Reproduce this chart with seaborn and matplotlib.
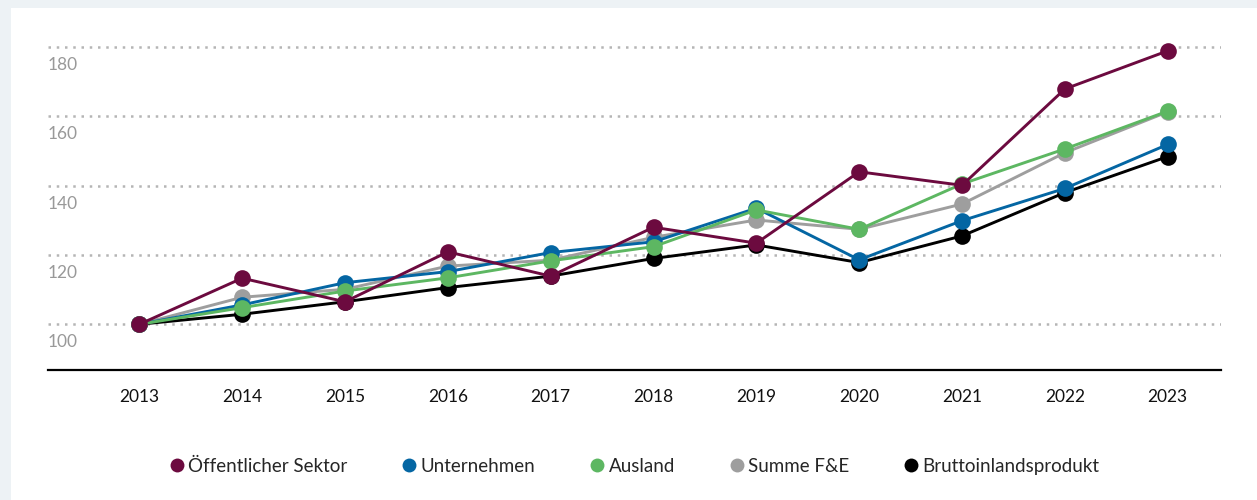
import pandas as pd
import matplotlib.pyplot as plt
import seaborn as sns
from matplotlib.lines import Line2D
from matplotlib.patches import Rectangle

years = [2013, 2014, 2015, 2016, 2017, 2018, 2019, 2020, 2021, 2022, 2023]

oeffentlich = [100, 113.3, 106.5, 120.9, 113.9, 128.0, 123.4, 144.0, 140.1, 167.9, 178.9]
unternehmen = [100, 105.6, 112.0, 115.2, 120.7, 123.8, 133.5, 118.6, 129.9, 139.2, 151.9]
ausland = [100, 104.8, 109.6, 113.4, 118.3, 122.4, 133.0, 127.4, 140.5, 150.6, 161.5]
summe_fe = [100, 107.8, 110.1, 116.8, 118.5, 125.1, 130.1, 127.4, 134.7, 149.5, 161.3]
bip = [100, 102.9, 106.5, 110.6, 113.9, 119.0, 122.9, 117.8, 125.5, 138.0, 148.4]

series = {
    "Öffentlicher Sektor": oeffentlich,
    "Unternehmen": unternehmen,
    "Ausland": ausland,
    "Summe F&E": summe_fe,
    "Bruttoinlandsprodukt": bip,
}
colors = {
    "Öffentlicher Sektor": "#6c0a3f",
    "Unternehmen": "#0466a3",
    "Ausland": "#5db762",
    "Summe F&E": "#9e9e9e",
    "Bruttoinlandsprodukt": "#000000",
}
# drawing order (bottom -> top)
draw_order = ["Bruttoinlandsprodukt", "Summe F&E", "Unternehmen", "Ausland", "Öffentlicher Sektor"]

yticks = [100, 120, 140, 160, 180]

df = pd.DataFrame([
    {"Jahr": y, "Wert": v, "Reihe": name}
    for name, vals in series.items()
    for y, v in zip(years, vals)
])

sns.set_theme(style="white")
plt.rcParams["font.family"] = ["Lato", "DejaVu Sans"]

W, H = 1257, 500
fig = plt.figure(figsize=(W / 100, H / 100), dpi=100, facecolor="#edf2f5")
fig.patches.append(Rectangle((11 / W, 0), 1, 1 - 8 / H, transform=fig.transFigure,
                             facecolor="white", edgecolor="none", zorder=-10))

ax = fig.add_axes([48 / W, 130 / H, (1221 - 48) / W, 330 / H])
ax.set_facecolor("none")

for z, name in enumerate(draw_order):
    sns.lineplot(data=df[df["Reihe"] == name], x="Jahr", y="Wert", color=colors[name],
                 marker="o", markersize=12, markeredgewidth=0, linewidth=2.1,
                 ax=ax, zorder=3 + z, legend=False)

ax.set_xlim(2012.112, 2023.518)
ax.set_ylim(86.81, 182.03)

for t in yticks:
    ax.axhline(t, color="#b5b5b5", linewidth=1.8, linestyle=(0, (1, 2.3)), zorder=1)
    ax.annotate(str(t), xy=(0, t), xycoords=ax.get_yaxis_transform(),
                xytext=(0, -18), textcoords="offset pixels",
                ha="left", va="center", fontsize=12.5, color="#999999")

ax.set_yticks([])
ax.set_xticks(years)
ax.set_xticklabels([str(y) for y in years], fontsize=12.5, color="#111111")
ax.tick_params(axis="x", length=0, pad=14)
ax.set_xlabel("")
ax.set_ylabel("")
for s in ["top", "right", "left"]:
    ax.spines[s].set_visible(False)
ax.spines["bottom"].set_color("black")
ax.spines["bottom"].set_linewidth(1.6)

handles = [Line2D([], [], linestyle="none", marker="o", markersize=10,
                  markeredgewidth=0, color=colors[n]) for n in series]
fig.legend(handles, list(series.keys()), loc="center", bbox_to_anchor=(0.504, 1 - 466 / H),
           ncol=5, frameon=False, fontsize=13.5, handletextpad=0.1, handlelength=1.0,
           columnspacing=2.8)

fig.savefig("out.png", dpi=100, facecolor=fig.get_facecolor())
